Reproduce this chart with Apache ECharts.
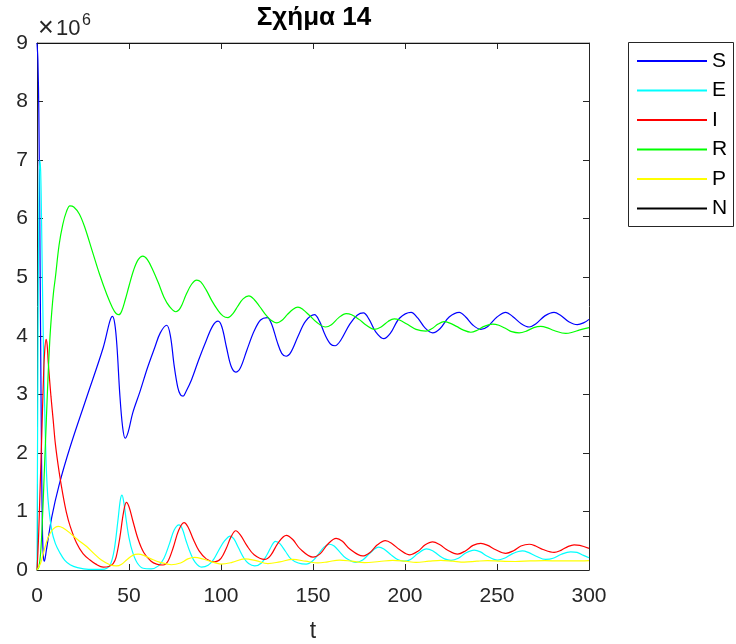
<!DOCTYPE html>
<html><head><meta charset="utf-8">
<script src="https://cdn.jsdelivr.net/npm/echarts@6/dist/echarts.min.js"></script>
<style>html,body{margin:0;padding:0;background:#fff}#c{width:736px;height:644px}</style>
</head><body><div id="c"></div>
<script>
// values in units of 10^6
const tS = [0,0.5,1,1.5,2,2.5,3,3.5,4,5,8,12,18,27,36,39.6,41,42.3,43.5,45,46.5,47.9,49.5,52,56,60,64,67,70.5,72.5,74.5,76.5,78,79.4,81,84,88,92,95.5,98.4,100.5,103,105.5,108,110.5,114,118,121.5,125.1,127.5,130.5,133,135.4,138,142,146,150.8,153.5,156.5,159.5,162,165,170,174,177.4,180.5,184,188.4,192,197,203.3,207,211,215,219,224,229.5,233,237,241.2,245,250,254.8,258.5,263,267.5,271,276,281,284.5,289,293.7,297,300];
const S  = [9.0,8.7,7.8,6.0,3.8,1.8,0.6,0.22,0.15,0.32,0.9,1.45,2.1,2.95,3.8,4.25,4.33,4.2,3.8,3.0,2.45,2.25,2.35,2.68,3.05,3.45,3.8,4.05,4.18,4.0,3.5,3.12,2.99,2.97,3.05,3.25,3.6,3.92,4.17,4.25,4.15,3.8,3.48,3.38,3.45,3.75,4.08,4.27,4.31,4.2,3.9,3.7,3.65,3.72,4.0,4.25,4.36,4.25,4.02,3.86,3.83,3.92,4.2,4.35,4.39,4.28,4.07,3.95,4.04,4.3,4.40,4.3,4.13,4.05,4.12,4.32,4.40,4.32,4.18,4.11,4.16,4.32,4.40,4.33,4.21,4.15,4.2,4.34,4.40,4.35,4.24,4.19,4.22,4.28];

const tE = [0,0.5,1,1.5,2,2.5,3,4,5,6,8,10,12.5,15,18,22,28,35,38,40,42,44,45.3,46.2,47.2,48.5,50,52,54.5,57.7,62,66,69,72,74.5,77.2,79,81,83.5,86,89.3,93,96,99,102,105,107,109.5,112.5,115,118.3,122,125,127.5,129.5,132,135,138,142,146.3,150,153,156,159,161.5,164.5,168,173.4,177,181,185.7,188.5,192,196,199.6,203,207,211.7,215,218,221.5,225,229,233,237.6,241,244.5,250.3,254,258.5,263.8,267,271,276.5,280.5,285,290,293.5,297,300];
const E  = [0,3.5,6.2,7.0,6.8,5.9,4.8,3.0,1.8,1.2,0.68,0.45,0.29,0.17,0.09,0.04,0.01,0.01,0.03,0.1,0.35,0.85,1.2,1.28,1.15,0.85,0.55,0.3,0.12,0.03,0.02,0.07,0.2,0.45,0.68,0.77,0.7,0.5,0.28,0.13,0.05,0.08,0.18,0.35,0.5,0.58,0.53,0.38,0.2,0.11,0.07,0.12,0.26,0.41,0.49,0.45,0.32,0.19,0.12,0.10,0.16,0.27,0.39,0.44,0.41,0.31,0.2,0.13,0.17,0.29,0.39,0.36,0.27,0.18,0.15,0.18,0.28,0.36,0.33,0.26,0.19,0.165,0.2,0.29,0.34,0.31,0.24,0.17,0.2,0.28,0.325,0.3,0.24,0.18,0.2,0.27,0.31,0.3,0.25,0.21];

const tI = [0,0.5,1,1.5,2,2.5,3,3.5,4,4.9,5.5,6.1,7.6,8.8,10,12,14,16,18,21.5,25,28.8,32,36,39,41.4,43,45,47,48.6,50,52,55,58,62,65,68.5,71,74,77,79.9,82,85,88,92,96.6,100,103,105.5,108,110.5,114,118,123.7,127,131,135.5,139,143,150,154,158,162.6,166,170,177,181,185,189.3,193,197,202.7,207,211,215,219,223,228.6,233,237,241.2,245,249,254.8,259,263,267.5,271,275,281,285,288.5,291.9,295,300];
const I  = [0,0.3,0.7,1.2,1.7,2.2,2.75,3.25,3.65,3.94,3.85,3.55,2.96,2.56,2.15,1.68,1.3,0.98,0.75,0.46,0.28,0.17,0.1,0.05,0.06,0.11,0.22,0.55,0.98,1.155,1.08,0.85,0.52,0.3,0.15,0.1,0.085,0.14,0.38,0.68,0.81,0.74,0.52,0.33,0.19,0.14,0.2,0.38,0.57,0.67,0.6,0.42,0.26,0.18,0.25,0.46,0.59,0.52,0.36,0.22,0.28,0.44,0.54,0.49,0.36,0.24,0.3,0.43,0.50,0.45,0.35,0.26,0.32,0.43,0.48,0.43,0.34,0.27,0.33,0.42,0.455,0.42,0.35,0.285,0.33,0.41,0.44,0.41,0.35,0.30,0.34,0.40,0.43,0.42,0.37];

const tR = [0,1,2,3,4,5,6,7,8,9,10,12,14,16,17.9,20,23,26,30,34,38,41,43,44.5,46,48,50,52.5,55,57.5,60,63,66,69,72,75.4,78,81,84,86.8,89,92,95,98,101,103.8,106.5,109,112,115.2,118,121,124,127,130.4,133,136,139,141.8,144.5,148,152,156.8,160,164,168,171,175,179,183.4,187,191,194.2,197,201,206,211.4,215,218,221.3,224,228,231.5,235.8,239,243,247.6,251,255,258,262,266,270,273.8,277,281,287.4,291,295,300];
const R  = [0,0.05,0.3,0.9,1.7,2.5,3.3,3.95,4.4,4.75,5.0,5.55,5.9,6.12,6.22,6.2,6.08,5.85,5.45,5.05,4.7,4.48,4.38,4.36,4.42,4.62,4.85,5.12,5.3,5.36,5.3,5.12,4.9,4.66,4.5,4.41,4.48,4.7,4.88,4.95,4.92,4.78,4.6,4.45,4.34,4.31,4.38,4.5,4.63,4.68,4.62,4.5,4.37,4.27,4.22,4.26,4.36,4.45,4.49,4.45,4.35,4.23,4.15,4.19,4.31,4.38,4.36,4.28,4.18,4.11,4.15,4.25,4.29,4.27,4.2,4.11,4.08,4.13,4.2,4.24,4.22,4.16,4.1,4.06,4.09,4.16,4.20,4.18,4.12,4.07,4.05,4.08,4.14,4.16,4.14,4.09,4.04,4.06,4.1,4.14];

const tP = [0,2,4,6,8,10,11.6,14,18,22,27,31,35,39.6,43.2,46,49,52,55,58,62,67,73,78,82,85.7,90,95,100,106,112.8,119,125.5,132,139,146,152.6,158,164.4,171,178,186,193.3,200,206,213,219.5,226,232.2,239,244.8,252,260,268,276,284,292,300];
const P  = [0,0.12,0.35,0.55,0.67,0.73,0.745,0.72,0.63,0.52,0.40,0.28,0.17,0.09,0.07,0.1,0.18,0.25,0.27,0.25,0.19,0.13,0.09,0.12,0.19,0.215,0.19,0.14,0.10,0.13,0.19,0.16,0.11,0.14,0.18,0.15,0.12,0.14,0.17,0.15,0.125,0.145,0.165,0.15,0.13,0.15,0.165,0.15,0.135,0.15,0.16,0.15,0.145,0.155,0.16,0.155,0.155,0.16];

const tN = [0,300];
const N  = [9,9];

const xTicks = [0,50,100,150,200,250,300];
const yTicks = [0,1,2,3,4,5,6,7,8,9];
const names = ['S','E','I','R','P','N'];
const colors = ['#0000ff','#00ffff','#ff0000','#00ff00','#ffff00','#000000'];

const FONT = 'Liberation Sans, Arial, Helvetica, sans-serif';
const AX = '#262626';
function pairs(t, v){ return t.map((x,i)=>[x, v[i]]); }
const seriesData = [pairs(tS,S),pairs(tE,E),pairs(tI,I),pairs(tR,R),pairs(tP,P),pairs(tN,N)];

const chart = echarts.init(document.getElementById('c'), null, {renderer:'canvas'});
const axisCommon = {
  axisLine:{show:true, onZero:false, lineStyle:{color:AX, width:1}},
  axisTick:{show:true, inside:true, length:6, lineStyle:{color:AX, width:1}},
  splitLine:{show:false}
};
chart.setOption({
  animation:false,
  backgroundColor:'#fff',
  title:{text:'Σχήμα 14', left:314, top:5, textAlign:'center', padding:0,
    textStyle:{fontFamily:FONT, fontSize:26, fontWeight:'bold', color:'#000'}},
  grid:{left:37, right:147, top:43, bottom:74, containLabel:false, outerBoundsMode:'none'},
  legend:{orient:'vertical', left:636, top:50.5, padding:0, itemWidth:70, itemHeight:20, itemGap:8.5,
    itemStyle:{opacity:0},
    data:names, textStyle:{fontFamily:FONT, fontSize:21, color:'#000', lineHeight:20}},
  graphic:[
    {type:'rect', shape:{x:628.5, y:42.5, width:105, height:184}, style:{fill:'none', stroke:AX, lineWidth:1}, z:1},
    {type:'text', left:38, top:15, style:{text:'×', font:'27px '+FONT, fill:AX}},
    {type:'text', left:56, top:18, style:{text:'10', font:'22px '+FONT, fill:AX}},
    {type:'text', left:82, top:13, style:{text:'6', font:'16px '+FONT, fill:AX}}
  ],
  xAxis:[
    Object.assign({type:'value', position:'bottom', min:0, max:300, interval:50,
      name:'t', nameLocation:'middle', nameGap:50,
      nameTextStyle:{fontFamily:FONT, fontSize:23, color:AX},
      axisLabel:{fontFamily:FONT, fontSize:21, color:AX, margin:16}}, axisCommon),
    Object.assign({type:'value', position:'top', min:0, max:300, interval:50, axisLabel:{show:false}}, axisCommon)
  ],
  yAxis:[
    Object.assign({type:'value', position:'left', min:0, max:9, interval:1,
      axisLabel:{fontFamily:FONT, fontSize:21, color:AX, margin:9}}, axisCommon),
    Object.assign({type:'value', position:'right', min:0, max:9, interval:1, axisLabel:{show:false}}, axisCommon)
  ],
  series: names.map((n,i)=>({
    name:n, type:'line', data:seriesData[i], xAxisIndex:0, yAxisIndex:0,
    showSymbol:false, symbol:'none', smooth:0.35, clip:true,
    lineStyle:{color:colors[i], width:1.2}, itemStyle:{color:colors[i]}
  }))
});
</script></body></html>
